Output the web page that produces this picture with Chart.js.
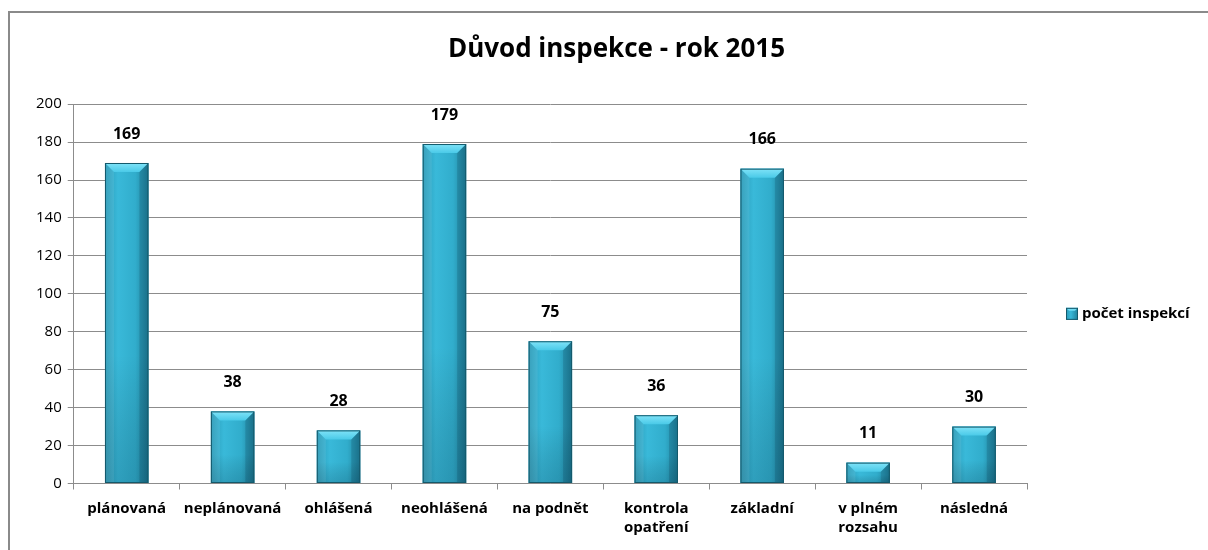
<!DOCTYPE html>
<html>
<head>
<meta charset="utf-8">
<script src="https://cdn.jsdelivr.net/npm/chart.js@4"></script>
<style>
    body { margin: 0; background: #fff; overflow: hidden; }
    #frame { position: absolute; left: 8px; top: 11px; width: 1220px; height: 600px; border: 2px solid #8a8a8a; }
    #chartContainer { position: absolute; left: 0; top: 0; width: 1208px; height: 550px; }
</style>
</head>
<body>
<div id="frame"></div>
<div id="chartContainer"><canvas id="myChart" width="1208" height="550"></canvas></div>
<script>
// Daten aus dem Bild
var kategorien = ['plánovaná', 'neplánovaná', 'ohlášená', 'neohlášená', 'na podnět',
    ['kontrola', 'opatření'], 'základní', ['v plném', 'rozsahu'], 'následná'];
var pocetInspekci = [169, 38, 28, 179, 75, 36, 166, 11, 30];
var titulek = 'Důvod inspekce - rok 2015';
var nazevRady = 'počet inspekcí';

var pismo = "'Open Sans', 'DejaVu Sans', sans-serif";

// Balken mit Fase (wie Excel) nachzeichnen + Werte darüber
var balkenPlugin = {
    id: 'balken',
    afterDatasetsDraw: function (chart) {
        var ctx = chart.ctx;
        var meta = chart.getDatasetMeta(0);
        meta.data.forEach(function (bar, i) {
            var p = bar.getProps(['x', 'y', 'base', 'width'], true);
            var x0 = p.x - p.width / 2, x1 = p.x + p.width / 2;
            var top = p.y, bot = p.base;
            var h = bot - top;
            var b = Math.min(9, h / 2);

            ctx.save();
            // Körper
            var g = ctx.createLinearGradient(x0, 0, x1, 0);
            g.addColorStop(0, '#2899b6');
            g.addColorStop(0.3, '#39b9d9');
            g.addColorStop(0.7, '#31adcc');
            g.addColorStop(1, '#1f7f99');
            ctx.fillStyle = g;
            ctx.fillRect(x0, top, p.width, h);
            // unten dunkler
            var gv = ctx.createLinearGradient(0, top, 0, bot);
            gv.addColorStop(0, 'rgba(0,0,0,0)');
            gv.addColorStop(0.6, 'rgba(0,0,0,0)');
            gv.addColorStop(1, 'rgba(0,40,60,0.18)');
            ctx.fillStyle = gv;
            ctx.fillRect(x0, top, p.width, h);
            // obere Fase
            ctx.beginPath();
            ctx.moveTo(x0, top); ctx.lineTo(x1, top);
            ctx.lineTo(x1 - b, top + b); ctx.lineTo(x0 + b, top + b);
            ctx.closePath();
            var gt = ctx.createLinearGradient(0, top, 0, top + b);
            gt.addColorStop(0, '#80e3f8');
            gt.addColorStop(1, '#4acae8');
            ctx.fillStyle = gt;
            ctx.fill();
            // seitliche Fasen
            ctx.beginPath();
            ctx.moveTo(x0, top); ctx.lineTo(x0 + b, top + b);
            ctx.lineTo(x0 + b, bot); ctx.lineTo(x0, bot); ctx.closePath();
            ctx.fillStyle = 'rgba(255,255,255,0.08)';
            ctx.fill();
            ctx.beginPath();
            ctx.moveTo(x1, top); ctx.lineTo(x1 - b, top + b);
            ctx.lineTo(x1 - b, bot); ctx.lineTo(x1, bot); ctx.closePath();
            ctx.fillStyle = 'rgba(0,30,50,0.15)';
            ctx.fill();
            // Rand
            ctx.strokeStyle = '#14596b';
            ctx.lineWidth = 1;
            ctx.strokeRect(x0 + 0.5, top + 0.5, p.width - 1, h - 1);

            // Wert
            ctx.fillStyle = '#000';
            ctx.font = 'bold 16px ' + pismo;
            ctx.textAlign = 'center';
            ctx.textBaseline = 'middle';
            ctx.fillText(pocetInspekci[i], p.x, top - 29);
            ctx.restore();
        });
    },
    // Legende rechts neben der Zeichenfläche
    afterDraw: function (chart) {
        var ctx = chart.ctx;
        var a = chart.chartArea;
        var lx = a.right + 39;
        var ly = (a.top + a.bottom) / 2 + 20;
        ctx.save();
        var g = ctx.createLinearGradient(lx, 0, lx + 12, 0);
        g.addColorStop(0, '#2899b6');
        g.addColorStop(0.4, '#39b9d9');
        g.addColorStop(1, '#1f7f99');
        ctx.fillStyle = g;
        ctx.fillRect(lx, ly - 6, 12, 12);
        ctx.fillStyle = '#6fdcf4';
        ctx.beginPath();
        ctx.moveTo(lx, ly - 6); ctx.lineTo(lx + 12, ly - 6); ctx.lineTo(lx + 9, ly - 3); ctx.lineTo(lx + 3, ly - 3);
        ctx.closePath();
        ctx.fill();
        ctx.strokeStyle = '#14596b';
        ctx.lineWidth = 1;
        ctx.strokeRect(lx + 0.5, ly - 5.5, 11, 11);
        ctx.fillStyle = '#000';
        ctx.font = 'bold 15px ' + pismo;
        ctx.textAlign = 'left';
        ctx.textBaseline = 'middle';
        ctx.fillText(nazevRady, lx + 16, ly);
        ctx.restore();
    }
};

var ctx = document.getElementById('myChart').getContext('2d');
var myChart = new Chart(ctx, {
    type: 'bar',
    data: {
        labels: kategorien,
        datasets: [{
            label: nazevRady,
            data: pocetInspekci,
            backgroundColor: '#2fa9c9',
            borderWidth: 0,
            barPercentage: 0.82,
            categoryPercentage: 0.5
        }]
    },
    options: {
        responsive: false,
        animation: false,
        layout: { padding: { left: 30, right: 5, top: 0, bottom: 3 } },
        plugins: {
            title: {
                display: true,
                text: titulek,
                color: '#000',
                font: { family: pismo, size: 26, weight: 'bold' },
                padding: { top: 34, bottom: 39 }
            },
            legend: { display: false },
            tooltip: { enabled: false }
        },
        scales: {
            y: {
                min: 0,
                max: 200,
                ticks: {
                    stepSize: 20,
                    color: '#000',
                    font: { family: pismo, size: 15 },
                    padding: 6
                },
                grid: { color: '#8c8c8c', lineWidth: 1, tickLength: 6 },
                border: { color: '#8c8c8c' }
            },
            // Platzhalter für die Legende
            platz: {
                type: 'linear',
                position: 'right',
                display: true,
                grid: { display: false },
                border: { display: false },
                ticks: { display: false },
                afterFit: function (scale) { scale.width = 176; }
            },
            x: {
                ticks: {
                    color: '#000',
                    font: { family: pismo, size: 15, weight: 'bold', lineHeight: 1.25 },
                    maxRotation: 0,
                    autoSkip: false,
                    padding: 10
                },
                grid: { drawOnChartArea: false, color: '#8c8c8c', tickLength: 6 },
                border: { color: '#8c8c8c' }
            }
        }
    },
    plugins: [balkenPlugin]
});
</script>
</body>
</html>
